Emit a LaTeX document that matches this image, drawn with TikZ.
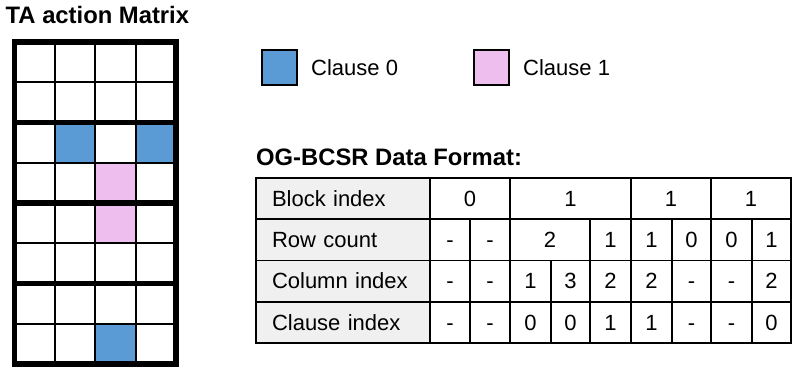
\documentclass[tikz,border=0pt]{standalone}
\usepackage{fontspec}
\setmainfont{Liberation Sans}
\definecolor{cblue}{HTML}{5B9BD5}
\definecolor{cpink}{HTML}{EEBFEE}
\definecolor{hgray}{HTML}{F0F0F0}
\newcommand\tc[7]{\node[#7, minimum width={#3-#2}, minimum height={#5-#4}] (#1) at ({(#2+#3)/2},{(#4+#5)/2}) {#6};}
\begin{document}
\begin{tikzpicture}[x=1pt,y=-1pt,
  txt/.style={font=\fontsize{22}{25}\selectfont, inner sep=0pt},
  ttl/.style={font=\bfseries\fontsize{23.8}{27}\selectfont, inner sep=0pt},
  tcell/.style={draw=black, line width=1.8pt, inner sep=0pt, outer sep=0pt, fill=white,
    text height=15.7pt, text depth=0pt, font=\fontsize{22}{25}\selectfont},
  hcell/.style={tcell, fill=hgray, align=left, text width=142pt, inner xsep=16pt},
  legbox/.style={draw=black, line width=2pt, minimum width=35pt, minimum height=35pt, inner sep=0pt},
  thin/.style={line width=2pt, draw=black},
  thick/.style={line width=5.5pt, draw=black}]
\useasboundingbox (0,0) rectangle (797,373);
% titles
\node[ttl, anchor=base west] (t1) at (5.5,23) {TA action Matrix};
\node[ttl, anchor=base west] (t2) at (256,165) {OG-BCSR Data Format:};
% legend
\node[legbox, fill=cblue] (l0) at (279.7,67) {};
\node[txt, anchor=west] (l0t) at (311,67.5) {Clause 0};
\node[legbox, fill=cpink] (l1) at (491,67) {};
\node[txt, anchor=west] (l1t) at (523,67.5) {Clause 1};
% matrix
\def\mx#1{(14.25+40.44*#1)}
\def\my#1{(42+40.25*#1)}
\fill[cblue] ({\mx{1}},{\my{2}}) rectangle ({\mx{2}},{\my{3}});
\fill[cblue] ({\mx{3}},{\my{2}}) rectangle ({\mx{4}},{\my{3}});
\fill[cblue] ({\mx{2}},{\my{7}}) rectangle ({\mx{3}},{\my{8}});
\fill[cpink] ({\mx{2}},{\my{3}}) rectangle ({\mx{3}},{\my{5}});
\foreach \c in {1,2,3} \draw[thin] ({\mx{\c}},{\my{0}}) -- ({\mx{\c}},{\my{8}});
\foreach \r in {1,3,5,7} \draw[thin] ({\mx{0}},{\my{\r}}) -- ({\mx{4}},{\my{\r}});
\foreach \r in {2,4,6} \draw[thick] ({\mx{0}},{\my{\r}}) -- ({\mx{4}},{\my{\r}});
\draw[thick] ({\mx{0}},{\my{0}}) rectangle ({\mx{4}},{\my{8}});
% table
\def\ra{178}\def\rb{219.25}\def\rc{260.5}\def\rd{301.75}\def\re{343}
\tc{hb}{256}{430}{\ra}{\rb}{Block index}{hcell}
\tc{hr}{256}{430}{\rb}{\rc}{Row count}{hcell}
\tc{hc}{256}{430}{\rc}{\rd}{Column index}{hcell}
\tc{hk}{256}{430}{\rd}{\re}{Clause index}{hcell}
\foreach \a/\b/\t [count=\i] in {430/510/0,510/631/1,631/711/1,711/791/1}
  {\tc{b\i}{\a}{\b}{\ra}{\rb}{\t}{tcell}}
\foreach \a/\b/\t [count=\i] in {430/470/-,470/510/-,510/590/2,590/631/1,631/672/1,672/711/0,711/752/0,752/791/1}
  {\tc{r\i}{\a}{\b}{\rb}{\rc}{\t}{tcell}}
\foreach \a/\b/\t [count=\i] in {430/470/-,470/510/-,510/551/1,551/590/3,590/631/2,631/672/2,672/711/-,711/752/-,752/791/2}
  {\tc{c\i}{\a}{\b}{\rc}{\rd}{\t}{tcell}}
\foreach \a/\b/\t [count=\i] in {430/470/-,470/510/-,510/551/0,551/590/0,590/631/1,631/672/1,672/711/-,711/752/-,752/791/0}
  {\tc{k\i}{\a}{\b}{\rd}{\re}{\t}{tcell}}
\end{tikzpicture}
\end{document}
